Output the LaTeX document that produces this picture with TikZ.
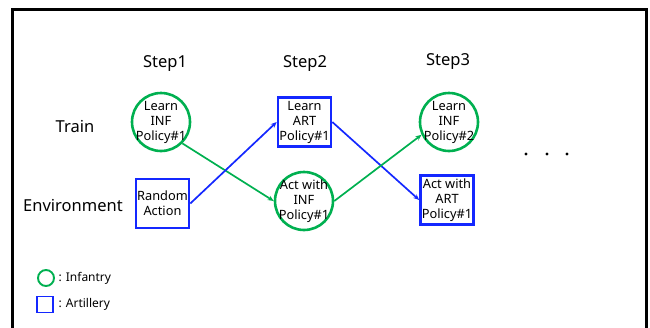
\documentclass[tikz,border=0pt]{standalone}
\usepackage{fontspec}
\setmainfont{Noto Sans}
\usetikzlibrary{arrows.meta}
\definecolor{infgreen}{RGB}{0,176,80}
\definecolor{artblue}{RGB}{20,40,255}
\begin{document}
\begin{tikzpicture}[x=1pt,y=-1pt,
  ntxt/.style={align=center,font=\fontsize{12.8}{15}\selectfont,inner sep=0pt},
  inf/.style={draw=infgreen,line width=2.6pt,circle,minimum size=58pt,inner sep=0pt},
  art/.style={draw=artblue,line width=2.6pt,rectangle,minimum width=53pt,minimum height=49pt,inner sep=0pt,ntxt},
  lbl/.style={font=\fontsize{16.5}{19}\selectfont},
  garrow/.style={draw=infgreen,line width=1.7pt,-{Stealth[length=6pt,width=5pt]}},
  barrow/.style={draw=artblue,line width=1.7pt,-{Stealth[length=6pt,width=5pt]}},
  leg/.style={font=\fontsize{12}{14}\selectfont,anchor=west}]
\useasboundingbox (0,0) rectangle (650,327);
\draw[line width=3pt] (12,340) -- (12,9) -- (646,9) -- (646,340);
\node[lbl] (s1) at (165,64) {Step1};
\node[lbl] (s2) at (305,64) {Step2};
\node[lbl] (s3) at (448,62) {Step3};
\node[lbl] (train) at (75,126) {Train};
\node[lbl] (env) at (73,205) {Environment};
\node[inf] (c1) at (161,122) {};
\node[ntxt] (c1t) at (c1) {Learn\\INF\\Policy\#1};
\node[art] (r2) at (304.5,122) {Learn\\ART\\Policy\#1};
\node[inf] (c3) at (449,122) {};
\node[ntxt] (c3t) at (c3) {Learn\\INF\\Policy\#2};
\node[art] (r1) at (162.5,203.5) {Random\\Action};
\node[inf] (c2) at (304,201) {};
\node[ntxt] (c2t) at (c2) {Act with\\INF\\Policy\#1};
\node[art] (r3) at (447,200) {Act with\\ART\\Policy\#1};
\draw[garrow] (c1.-45) -- (c2.west);
\draw[barrow] (r1.east) -- (r2.west);
\draw[barrow] (r2.east) -- (r3.west);
\draw[garrow] (c2.east) -- (c3.205);
\fill (526,154) circle (1.6) (547,154) circle (1.6) (567,154) circle (1.6);
\node[draw=infgreen,line width=1.9pt,circle,minimum size=16pt,inner sep=0pt] (lc) at (46,278) {};
\node[leg] (lct) at (55,278) {: Infantry};
\node[draw=artblue,line width=1.9pt,rectangle,minimum size=16pt,inner sep=0pt] (ls) at (45,304.5) {};
\node[leg] (lst) at (55,304.5) {: Artillery};
\end{tikzpicture}
\end{document}
